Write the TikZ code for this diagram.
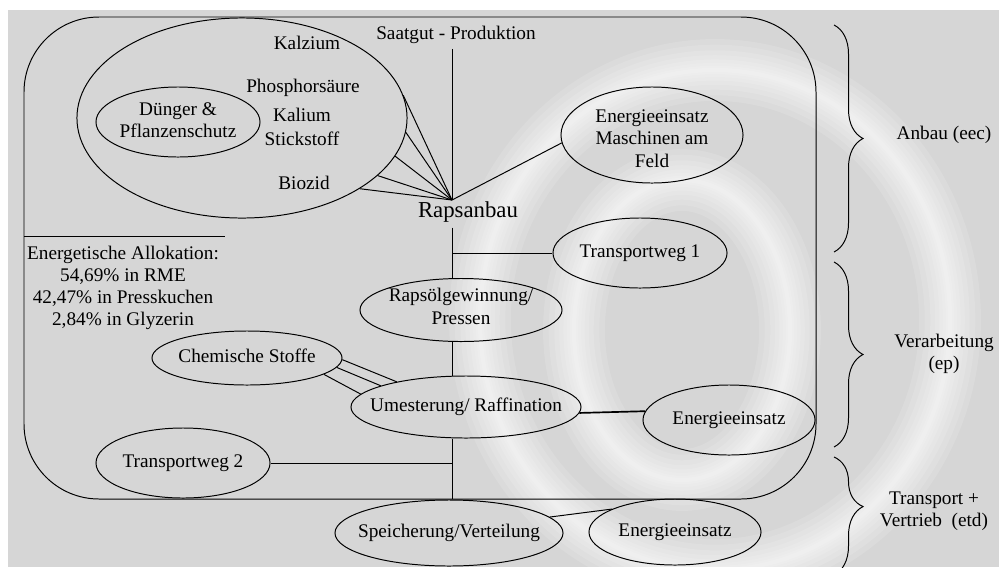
\documentclass[tikz,border=0pt]{standalone}
\usepackage{fontspec}
\setmainfont{Liberation Serif}
\usetikzlibrary{shapes.geometric,decorations.pathreplacing}
\definecolor{hintergrund}{RGB}{214,214,214}
\newcommand{\zeilen}[2][-0.25em]{\makebox[0pt]{\raisebox{#1}[0pt][0pt]{\begin{tabular}{@{}c@{}}#2\end{tabular}}}}

\begin{document}
\begin{tikzpicture}[x=0.025cm, y=-0.025cm, line width=0.7pt, every node/.style={font=\fontsize{13.7}{15.8}\selectfont}, oval/.style 2 args={draw, ellipse, inner sep=0pt, minimum width=#1*0.05cm, minimum height=#2*0.05cm}, klammer/.style={decorate, decoration={brace, amplitude=0.725cm}}]
	\useasboundingbox (0,0) rectangle (999,567);
	\fill[hintergrund] (8,10) rectangle (999,567);
	\foreach \b in {44,36,28,21,15,10,6,3} {
		\draw[white, opacity=0.13, line width=\b pt] (715,320) ellipse [x radius=235, y radius=250];
		\draw[white, opacity=0.13, line width=\b pt] (682,330) ellipse [x radius=108, y radius=150];
	}
	\draw[rounded corners=1.875cm] (24,17) rectangle (816,499);
	\draw (24,236) -- (225,236);
	\coordinate (A) at (452,200);
	\coordinate (FU) at (452,499);
	\node[oval={165}{100}] (DP) at (242,118) {};
	\node[oval={82}{35}] (D) at (178,122) {\zeilen{D\"unger \&\\Pflanzenschutz}};
	\node (Ka) at (307,43) {Kalzium};
	\node (Ph) at (303,88) {Phosphors\"aure};
	\node (Kl) at (302,115) {Kalium};
	\node (St) at (302,139) {Stickstoff};
	\node (Bi) at (304,183) {Biozid};
	\node (SP) at (456,35) {Saatgut - Produktion};
	\node[font=\fontsize{16.2}{19}\selectfont] (R) at (468,212) {Rapsanbau};
	\node[oval={91}{48}] (M) at (652,135) {\zeilen[-7.5pt]{Energieeinsatz\\Maschinen am\\Feld}};
	\node[oval={87}{35}] (T1) at (640,253) {\zeilen{Transportweg 1}};
	\node[oval={101}{31.5}] (RP) at (461,310) {\zeilen[-2.5pt]{Raps\"olgewinnung/\\Pressen}};
	\node[oval={95}{27}] (C) at (247,358) {\zeilen{Chemische Stoffe}};
	\node[oval={115}{31}] (U) at (466,407) {\zeilen{Umesterung/ Raffination}};
	\node[oval={86}{35}] (E1) at (729,420) {\zeilen{Energieeinsatz}};
	\node[oval={87}{35}] (T2) at (183,463) {\zeilen{Transportweg 2}};
	\node[oval={114}{33}] (S) at (449,533) {\zeilen{Speicherung/Verteilung}};
	\node[oval={86}{33}] (E2) at (675,532) {\zeilen{Energieeinsatz}};
	\node[align=center] (AL) at (123,288) {Energetische Allokation:\\54,69\% in RME\\42,47\% in Presskuchen\\2,84\% in Glyzerin};
	\node (AB) at (944,135) {Anbau (eec)};
	\node[align=center] (VA) at (944,354) {Verarbeitung\\(ep)};
	\node[align=center] (TV) at (934,511) {Transport +\\Vertrieb\ \ (etd)};
	\draw (SP.south -| A) -- (A);
	\foreach \w in {8,-5,-14,-23,-31} \draw (DP.\w) -- (A);
	\draw (A) -- (M.185);
	\draw (R.south -| A) -- (RP.north -| A);
	\draw (T1.west -| A) -- (T1.west);
	\draw (RP.south -| A) -- (U.north -| A);
	\draw (U.south -| A) -- (FU);
	\draw (T2.east) -- (T2.east -| A);
	\draw[line width=1.2pt] (U.-3) -- (E1.174);
	\foreach \a/\b in {-1/160,-6/166,-12/173} \draw (C.\a) -- (U.\b);
	\draw (S.9) -- (E2.160);
	\draw[klammer] (834,25) -- (834,252);
	\draw[klammer] (834,262) -- (834,447);
	\draw[klammer, decoration={aspect=0.42}] (834,457) -- (834,575);
\end{tikzpicture}
\end{document}
